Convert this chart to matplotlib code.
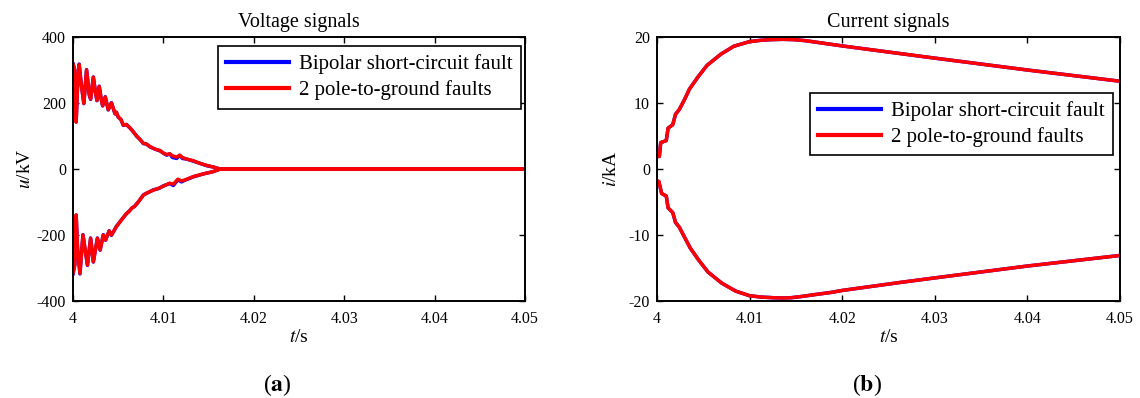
import numpy as np
import matplotlib
matplotlib.use("Agg")
import matplotlib.pyplot as plt

plt.rcParams['font.family'] = ['Liberation Serif', 'DejaVu Serif']
plt.rcParams['mathtext.fontset'] = 'stix'
plt.rcParams['axes.unicode_minus'] = False

# ---------------- data ----------------
x_ticks = [4.0, 4.01, 4.02, 4.03, 4.04, 4.05]
x_tick_labels = ["4", "4.01", "4.02", "4.03", "4.04", "4.05"]
v_ticks = [-400, -200, 0, 200, 400]
i_ticks = [-20, -10, 0, 10, 20]
legend_labels = ["Bipolar short-circuit fault", "2 pole-to-ground faults"]

# Voltage, upper branch
t_vu = [4.0000, 4.0002, 4.00035, 4.0005, 4.00068, 4.0009, 4.0012, 4.0015, 4.0018,
        4.00195, 4.00225, 4.0025, 4.00265, 4.0029, 4.0031, 4.00328, 4.00357, 4.0039,
        4.00425, 4.00465, 4.0048, 4.0050, 4.0053, 4.00557, 4.0059, 4.0063, 4.0066,
        4.00705, 4.0074, 4.00778, 4.0081, 4.00852, 4.0091, 4.00962, 4.0100, 4.01036,
        4.0107, 4.0110, 4.01147, 4.0118, 4.0121, 4.01258, 4.0133, 4.01405, 4.01479,
        4.01552, 4.0160, 4.01626, 4.0500]
v_up_red = [318, 300, 142, 250, 316, 260, 199, 300, 225,
            212, 278, 230, 208, 250, 215, 192, 218, 180,
            200, 168, 172, 158, 150, 133, 135, 125, 115,
            100, 90, 78, 76, 68, 60, 56, 48, 44,
            46, 40, 36, 42, 35, 30, 25, 17, 11,
            6, 2, 0, 0]
v_up_blue = [319, 300, 143, 250, 318, 260, 198, 301, 225,
             211, 279, 230, 207, 251, 215, 191, 219, 179,
             201, 167, 172, 157, 150, 132, 135, 124, 115,
             99, 90, 77, 76, 67, 60, 55, 48, 42,
             46, 35, 32, 41, 32, 30, 24, 17, 10,
             6, 2, 0, 0]

# Voltage, lower branch
t_vl = [4.0000, 4.0002, 4.00035, 4.0005, 4.00077, 4.0011, 4.0016, 4.00195, 4.00225,
        4.0027, 4.0030, 4.00335, 4.0036, 4.0040, 4.00425, 4.0048, 4.0052, 4.0055,
        4.0059, 4.0062, 4.0065, 4.0068, 4.0072, 4.0078, 4.0082, 4.0089, 4.0095,
        4.0100, 4.0107, 4.0111, 4.0116, 4.0120, 4.0123, 4.0133, 4.0144, 4.0155,
        4.0163, 4.0500]
v_lo_red = [-316, -290, -139, -240, -316, -200, -291, -210, -281,
            -210, -245, -200, -215, -188, -200, -175, -160, -150,
            -135, -129, -118, -114, -100, -79, -72, -64, -58,
            -52, -43, -46, -31, -36, -34, -23, -15, -8,
            0, 0]
v_lo_blue = [-318, -290, -140, -240, -318, -199, -292, -209, -282,
             -209, -246, -199, -216, -187, -201, -174, -160, -149,
             -136, -128, -119, -113, -101, -78, -73, -63, -59,
             -51, -44, -50, -33, -39, -35, -24, -15, -8,
             0, 0]

# Current, upper branch
t_iu = [4.0000, 4.00025, 4.0004, 4.0010, 4.0012, 4.0017, 4.0020, 4.0024, 4.0030,
        4.0035, 4.0044, 4.0054, 4.0069, 4.0083, 4.0100, 4.0112, 4.0123, 4.0136,
        4.0148, 4.0160, 4.0175, 4.0190, 4.0200, 4.0262, 4.0300, 4.0400, 4.0500]
i_up_red = [1.9, 1.9, 4.0, 4.3, 6.2, 6.7, 8.3, 9.0, 10.6,
            12.1, 13.9, 15.7, 17.4, 18.6, 19.3, 19.5, 19.6, 19.65,
            19.6, 19.45, 19.15, 18.85, 18.65, 17.5, 16.8, 15.0, 13.3]
i_up_blue = [1.9, 1.9, 4.0, 4.3, 6.2, 6.7, 8.3, 9.0, 10.6,
             12.1, 13.9, 15.7, 17.4, 18.6, 19.3, 19.5, 19.6, 19.65,
             19.6, 19.45, 19.15, 18.85, 18.65, 17.5, 16.8, 15.0, 13.3]

# Current, lower branch
t_il = [4.0000, 4.0002, 4.0005, 4.0010, 4.0012, 4.0017, 4.0020, 4.0024, 4.0030,
        4.0036, 4.0045, 4.0055, 4.0070, 4.0085, 4.0100, 4.0112, 4.0125, 4.0136,
        4.0145, 4.0157, 4.0172, 4.0188, 4.0200, 4.0262, 4.0300, 4.0400, 4.0500]
i_lo_red = [-1.8, -1.9, -3.7, -4.1, -5.9, -6.6, -8.1, -8.8, -10.4,
            -12.0, -13.8, -15.6, -17.3, -18.5, -19.2, -19.4, -19.5, -19.55,
            -19.5, -19.3, -19.0, -18.7, -18.4, -17.2, -16.5, -14.7, -13.1]
i_lo_blue = [-1.8, -1.9, -3.7, -4.1, -5.9, -6.6, -8.1, -8.8, -10.4,
             -12.0, -13.8, -15.6, -17.3, -18.5, -19.2, -19.4, -19.5, -19.55,
             -19.5, -19.3, -19.0, -18.7, -18.4, -17.2, -16.5, -14.7, -13.1]

# ---------------- figure ----------------
W, H = 1140, 398
fig = plt.figure(figsize=(W / 100, H / 100), dpi=100)

ax1 = fig.add_axes([73 / W, (H - 301) / H, 452 / W, 264 / H])
ax2 = fig.add_axes([657 / W, (H - 301) / H, 463 / W, 264 / H])

BLUE = '#0000ff'
RED = '#ff0000'
LW = 2.5

ax1.plot(t_vu, v_up_blue, color=BLUE, lw=LW, label=legend_labels[0])
ax1.plot(t_vl, v_lo_blue, color=BLUE, lw=LW)
ax1.plot(t_vu, v_up_red, color=RED, lw=LW, label=legend_labels[1])
ax1.plot(t_vl, v_lo_red, color=RED, lw=LW)

ax2.plot(t_iu, i_up_blue, color=BLUE, lw=LW, label=legend_labels[0])
ax2.plot(t_il, i_lo_blue, color=BLUE, lw=LW)
ax2.plot(t_iu, i_up_red, color=RED, lw=LW, label=legend_labels[1])
ax2.plot(t_il, i_lo_red, color=RED, lw=LW)

for ax, yt, ylim in [(ax1, v_ticks, (-400, 400)), (ax2, i_ticks, (-20, 20))]:
    ax.set_xlim(4.0, 4.05)
    ax.set_ylim(*ylim)
    ax.set_xticks(x_ticks)
    ax.set_xticklabels(x_tick_labels)
    ax.set_yticks(yt)
    ax.set_yticklabels([str(v) for v in yt])
    ax.tick_params(direction='in', top=True, right=True, length=4, width=1,
                   labelsize=11.5, colors='black')
    ax.tick_params(axis='x', pad=7)
    ax.tick_params(axis='y', pad=5)
    for s in ax.spines.values():
        s.set_linewidth(1.4)
        s.set_color('black')
    ax.set_xlabel(r"$t$/s", fontsize=14, labelpad=2)

ax1.set_ylabel(r"$u$/kV", fontsize=14, labelpad=2)
ax2.set_ylabel(r"$i$/kA", fontsize=14, labelpad=6)
ax1.set_title("Voltage signals", fontsize=14.5, pad=7)
ax2.set_title("Current signals", fontsize=14.5, pad=7)

leg_kw = dict(loc='upper right', fontsize=15, frameon=True, fancybox=False,
              edgecolor='black', borderaxespad=0, handlelength=3.0,
              handletextpad=0.5, labelspacing=0.3, borderpad=0.4, framealpha=1)
l1 = ax1.legend(bbox_to_anchor=(0.991, 0.966), **leg_kw)
l2 = ax2.legend(bbox_to_anchor=(0.985, 0.789), **leg_kw)
for lg in (l1, l2):
    lg.get_frame().set_linewidth(1.2)
    for ln in lg.get_lines():
        ln.set_linewidth(3)

fig.text(277 / W, 1 - 385 / H, r"($\mathbf{a}$)", ha='center', va='center', fontsize=17)
fig.text(867 / W, 1 - 385 / H, r"($\mathbf{b}$)", ha='center', va='center', fontsize=17)

fig.savefig("out.png", dpi=100)
